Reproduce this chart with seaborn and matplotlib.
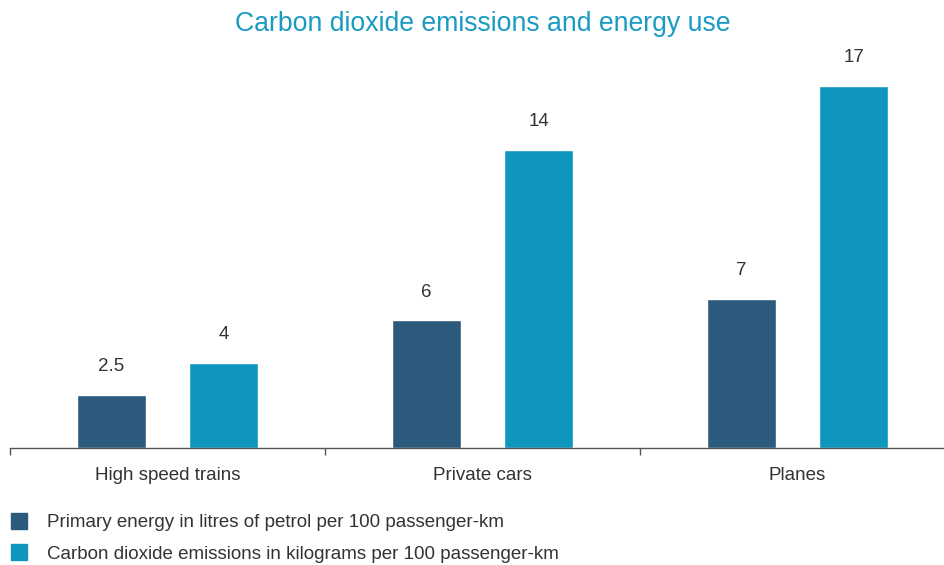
import matplotlib
matplotlib.use("Agg")
import matplotlib.pyplot as plt
from matplotlib.lines import Line2D
import seaborn as sns
import pandas as pd

# Data
modes = ["High speed trains", "Private cars", "Planes"]
energy_litres = [2.5, 6, 7]
co2_kg = [4, 14, 17]
series_names = [
    "Primary energy in litres of petrol per 100 passenger-km",
    "Carbon dioxide emissions in kilograms per 100 passenger-km",
]
value_labels = [["2.5", "6", "7"], ["4", "14", "17"]]
colors = ["#2B5A7C", "#0E96BE"]
title_color = "#1A9BC2"
text_color = "#333333"

df = pd.DataFrame({
    "mode": modes * 2,
    "series": [series_names[0]] * 3 + [series_names[1]] * 3,
    "value": energy_litres + co2_kg,
})

sns.set_theme(style="white")
plt.rcParams["font.family"] = ["Liberation Sans", "DejaVu Sans"]

W, H = 944, 565
FS = 13.5
fig = plt.figure(figsize=(W / 100, H / 100), dpi=100)
# axes in pixel terms: left 10, baseline at y=448, top at y=60
ax = fig.add_axes([10 / W, (H - 448) / H, 934 / W, 388 / H])

sns.barplot(
    data=df, x="mode", y="value", hue="series", order=modes,
    hue_order=series_names, palette=colors, width=0.712, gap=0.385,
    saturation=1, legend=False, ax=ax,
)

# value labels above each bar
for container, labels in zip(ax.containers, value_labels):
    ax.bar_label(container, labels=labels, padding=14, fontsize=FS,
                 color=text_color, clip_on=False)

# axis styling: only a bottom baseline with ticks between groups
for side in ["top", "right", "left"]:
    ax.spines[side].set_visible(False)
ax.spines["bottom"].set_color("#555555")
ax.spines["bottom"].set_linewidth(1.0)
ax.set_yticks([])
ax.set_xlabel("")
ax.set_ylabel("")
ax.set_xticks([0, 1, 2])
ax.set_xticklabels(modes, fontsize=FS, color=text_color)
ax.tick_params(axis="x", length=0, pad=13.5)
ax.set_xticks([-0.5, 0.5, 1.5, 2.5], minor=True)
ax.tick_params(axis="x", which="minor", length=5, width=1, color="#555555",
               direction="out", bottom=True)

# limits last, so tick placement cannot widen them
ax.set_xlim(-0.5, -0.5 + 934 / 315)
ax.set_ylim(0, 388 / 21.3)

fig.text(483 / W, 1 - 24 / H, "Carbon dioxide emissions and energy use",
         ha="center", va="center", fontsize=19.2, color=title_color)

handles = [Line2D([], [], linestyle="none", marker="s", markersize=11,
                  markerfacecolor=c, markeredgecolor=c) for c in colors]
fig.legend(handles, series_names, loc="upper left",
           bbox_to_anchor=(10 / W, 1 - 514 / H), frameon=False,
           fontsize=FS, labelcolor=text_color, handlelength=1.0,
           handletextpad=0.95, labelspacing=0.78, borderaxespad=0,
           borderpad=0)

fig.savefig("out.png", dpi=100)
